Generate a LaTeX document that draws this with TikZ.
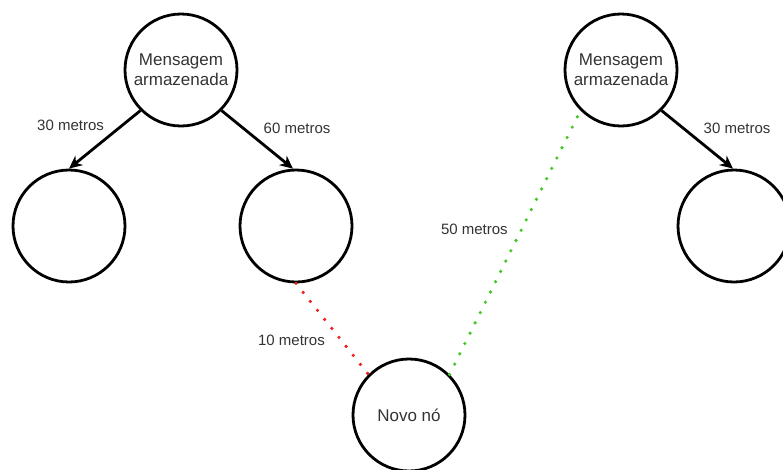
\documentclass[tikz,border=0pt]{standalone}
\usepackage{fontspec}
\setmainfont{Liberation Sans}
\usetikzlibrary{arrows.meta}

\definecolor{txtgray}{RGB}{51,51,51}
\definecolor{linkred}{RGB}{240,30,30}
\definecolor{linkgreen}{RGB}{70,200,40}

\begin{document}
\begin{tikzpicture} [x=1pt, y=-1pt,
   host/.style = {circle, draw, line width=2.8pt, minimum size=112pt, inner sep=0pt,
                  align=center, text=txtgray, font=\fontsize{17}{20}\selectfont},
   dist/.style = {text=txtgray, font=\fontsize{15}{18}\selectfont, inner sep=3pt},
   hop/.style  = {-{Stealth[length=13pt, width=12pt, inset=4pt]}, line width=2.8pt},
   reach/.style = {line width=3.6pt, line cap=round, dash pattern=on 0pt off 11.5pt}]
   \useasboundingbox (0,0) rectangle (783,469);

   \node (msgA)[host] at (181,70) {Mensagem\\armazenada};
   \node (leafA)[host] at (69,226) {};
   \node (leafB)[host] at (296,226) {};
   \node (msgB)[host] at (621,70) {Mensagem\\armazenada};
   \node (leafC)[host] at (734,226) {};
   \node (novo)[host] at (409,415) {Novo n\'o};

   \path[hop](msgA.225) edge node[dist, pos=0.45, anchor=south east, yshift=2pt] {30 metros}(leafA.north);
   \path[hop](msgA.-45) edge node[dist, pos=0.5, anchor=south west, xshift=2pt, yshift=2pt] {60 metros}(leafB.93);
   \path[hop](msgB.-45) edge node[dist, pos=0.5, anchor=south west, xshift=2pt, yshift=2pt] {30 metros}(leafC.91);

   \path[reach, draw=linkred](leafB.south) -- node[dist, pos=0.63, anchor=east, xshift=-12pt] {10 metros}(novo.135);
   \path[reach, draw=linkgreen](novo.45) -- node[dist, pos=0.55, anchor=east, xshift=-9pt] {50 metros}(msgB.225);
\end{tikzpicture}
\end{document}
